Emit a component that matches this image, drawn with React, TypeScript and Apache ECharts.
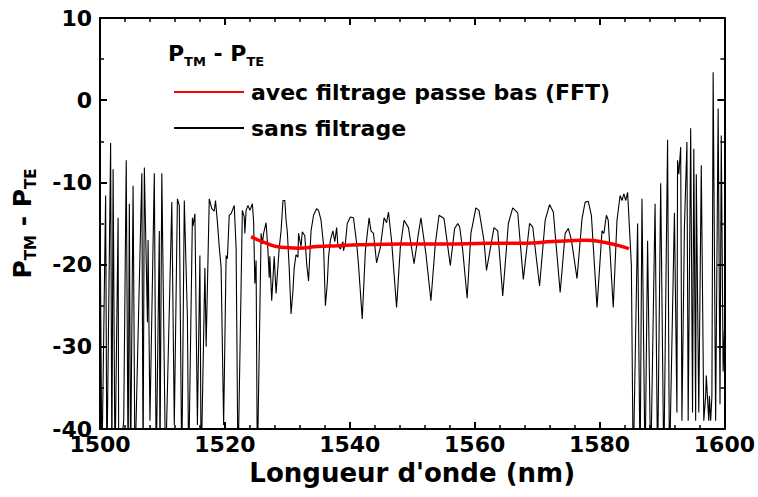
import React, { useEffect, useRef } from "react";
import * as echarts from "echarts";

const xTicks = [1500, 1520, 1540, 1560, 1580, 1600];
const yTicks = [-40, -30, -20, -10, 0, 10];
const seriesNames = ["avec filtrage passe bas (FFT)", "sans filtrage"];

const filteredWavelength = [1524.2, 1526.3, 1529.0, 1531.7, 1534.9, 1538.1, 1541.4, 1548.2, 1555.3, 1562.1, 1568.2, 1572.5, 1577.7, 1580.9, 1584.1, 1584.7];
const filteredDiff = [-16.6, -17.3, -17.9, -18.0, -17.8, -17.7, -17.6, -17.5, -17.5, -17.4, -17.4, -17.2, -17.05, -17.3, -17.9, -18.1];

const rawWavelength = [
  1500.0, 1500.3, 1500.9, 1501.1, 1501.7, 1501.9, 1502.1, 1502.4, 1502.9, 1503.0,
  1503.8, 1504.2, 1504.5, 1504.7, 1504.9, 1505.3, 1505.6, 1506.7, 1506.9, 1507.1,
  1507.6, 1507.7, 1508.0, 1508.7, 1509.0, 1509.5, 1509.6, 1509.9, 1510.5, 1511.5,
  1511.9, 1512.4, 1512.7, 1513.1, 1513.5, 1514.0, 1514.2, 1514.8, 1514.9, 1515.2,
  1515.6, 1516.0, 1516.2, 1516.8, 1517.0, 1517.5, 1517.9, 1518.3, 1518.5, 1518.8,
  1519.1, 1519.4, 1519.8, 1520.2, 1520.4, 1520.7, 1521.0, 1521.5, 1521.8, 1522.1,
  1522.8, 1523.1, 1523.2, 1523.4, 1523.7, 1524.0, 1524.4, 1524.6, 1524.8, 1525.0,
  1525.2, 1525.8, 1526.0, 1526.2, 1526.6, 1526.9, 1527.1, 1527.2, 1527.5, 1527.9,
  1528.2, 1528.7, 1529.0, 1529.3, 1529.6, 1529.8, 1530.0, 1530.3, 1530.6, 1530.9,
  1531.1, 1531.4, 1531.7, 1531.8, 1532.2, 1532.4, 1532.8, 1533.1, 1533.4, 1533.8,
  1534.2, 1534.7, 1535.0, 1535.4, 1535.8, 1536.1, 1536.4, 1536.6, 1536.9, 1537.3,
  1537.6, 1537.9, 1538.1, 1538.5, 1538.9, 1539.0, 1539.3, 1539.6, 1540.1, 1540.6,
  1541.1, 1541.4, 1542.0, 1542.5, 1543.1, 1543.4, 1543.8, 1544.3, 1544.9, 1545.5,
  1545.9, 1546.2, 1546.7, 1547.5, 1548.1, 1548.7, 1549.4, 1550.3, 1551.0, 1551.4,
  1552.2, 1553.0, 1553.7, 1554.3, 1555.1, 1556.1, 1556.8, 1557.3, 1557.6, 1558.1,
  1558.8, 1559.4, 1560.2, 1560.7, 1561.5, 1561.9, 1563.1, 1563.7, 1564.5, 1565.4,
  1566.1, 1566.9, 1567.8, 1568.8, 1569.3, 1570.4, 1571.3, 1572.0, 1572.6, 1573.7,
  1574.5, 1575.0, 1575.5, 1576.4, 1577.2, 1577.7, 1578.2, 1578.7, 1579.6, 1580.4,
  1580.7, 1581.1, 1581.4, 1582.2, 1582.8, 1583.3, 1583.6, 1583.9, 1584.2, 1584.5,
  1585.1, 1585.4, 1586.1, 1586.5, 1586.8, 1587.3, 1587.7, 1588.2, 1588.9, 1589.3,
  1589.8, 1590.3, 1590.9, 1591.2, 1592.0, 1592.4, 1592.5, 1592.7, 1593.0, 1593.2,
  1593.6, 1594.0, 1594.2, 1594.6, 1594.9, 1595.1, 1595.4, 1595.5, 1595.9, 1596.3,
  1596.7, 1597.0, 1597.1, 1597.5, 1597.6, 1597.8, 1598.0, 1598.2, 1598.6, 1599.0,
  1599.3, 1599.5, 1599.8, 1600.0
];
const rawDiff = [
  -12.2, -45, -11.6, -45, -5.2, -45, -8.4, -45, -14.3, -45,
  -39, -7.3, -45, -12.6, -45, -10.4, -45, -8.9, -45, -8.2,
  -27, -17, -39, -8.9, -45, -15.9, -45, -8.9, -45, -12.4,
  -39.5, -12, -12.8, -45, -12.2, -26.5, -45, -14.3, -15.3, -13.8,
  -39.5, -18.9, -45, -20.4, -30, -12, -13.2, -13.5, -12.2, -14.8,
  -17.9, -20.4, -39.5, -18.9, -19.3, -14, -13.8, -12.8, -18, -45,
  -13.4, -14.2, -16.2, -13.4, -12.8, -13.4, -12.6, -14.7, -22.3, -19.5,
  -45, -16.2, -17.5, -16.2, -14.9, -18.3, -21.6, -19, -24.4, -19,
  -23.5, -18, -15.9, -12.2, -12.2, -14.6, -16, -20.4, -26, -23.2,
  -20.4, -18.8, -19.1, -16.2, -17.8, -16, -16.5, -19.9, -22, -15.9,
  -14, -13.2, -13.4, -14.6, -17.6, -25, -22.3, -19.1, -17, -15.9,
  -17.2, -15.5, -17.7, -18.1, -17.2, -18.3, -17.4, -15, -14.2, -14.3,
  -17.4, -20, -26.6, -18.3, -14.3, -15.9, -16.2, -19.8, -17.9, -14.3,
  -14.9, -13.6, -17.1, -25.2, -17.9, -14.6, -15.5, -19.9, -16.2, -14.3,
  -18.7, -24.4, -17.5, -14, -14.4, -20.1, -15.6, -15, -15.4, -18.3,
  -24.1, -16.2, -13.1, -13.4, -17.1, -20.7, -15.5, -15.9, -23.8, -15,
  -13.1, -13.7, -21.8, -15, -15.4, -22.6, -14.6, -12.7, -13.6, -23.4,
  -16.2, -15.6, -17, -21.7, -14.4, -12.4, -12.3, -14, -25.2, -15.9,
  -16.2, -14, -14.6, -25.2, -14.6, -11.6, -12.2, -11.4, -12.2, -11.2,
  -20, -45, -15, -45, -12, -45, -17.1, -45, -12.6, -45,
  -10.1, -45, -4.8, -45, -13.7, -38, -7.3, -9, -5.7, -39,
  -15.5, -5.1, -39, -3.4, -38, -5.9, -39, -9, -38, -7.9,
  -39, -36, -33.5, -39, -36, -39, -36, 3.4, -39, -1,
  -37, -4.3, -33, -28
];

const FONT = "'DejaVu Sans', 'Liberation Sans', Arial, sans-serif";

export default function App() {
  const ref = useRef<HTMLDivElement>(null);
  useEffect(() => {
    if (!ref.current) return;
    const chart = echarts.init(ref.current, undefined, { renderer: "svg" });
    const rawData = rawWavelength.map((w, i) => [w, rawDiff[i]]);
    const filteredData = filteredWavelength.map((w, i) => [w, filteredDiff[i]]);

    const baseX = {
      type: "value" as const,
      min: xTicks[0],
      max: xTicks[xTicks.length - 1],
      interval: xTicks[1] - xTicks[0],
      splitLine: { show: false },
      axisLine: { show: true, onZero: false, lineStyle: { color: "#000", width: 2 } },
      axisTick: { show: true, inside: true, length: 7, lineStyle: { color: "#000", width: 2 } },
      minorTick: { show: true, splitNumber: 5, length: 4, lineStyle: { color: "#000", width: 1.5 } },
    };
    const baseY = {
      type: "value" as const,
      min: yTicks[0],
      max: yTicks[yTicks.length - 1],
      interval: yTicks[1] - yTicks[0],
      splitLine: { show: false },
      axisLine: { show: true, onZero: false, lineStyle: { color: "#000", width: 2 } },
      axisTick: { show: true, inside: true, length: 7, lineStyle: { color: "#000", width: 2 } },
      minorTick: { show: true, splitNumber: 2, length: 4, lineStyle: { color: "#000", width: 1.5 } },
    };
    const tickStyle = { fontSize: 22, fontWeight: "bold" as const, color: "#000", fontFamily: FONT };
    const legendStyle = { fontSize: 22, fontWeight: "bold" as const, color: "#000", fontFamily: FONT };

    chart.setOption({
      animation: false,
      backgroundColor: "#fff",
      textStyle: { fontFamily: FONT },
      grid: { left: 100, right: 30, top: 18, bottom: 68, containLabel: false },
      legend: {
        data: seriesNames,
        orient: "vertical",
        left: 168,
        top: 76,
        itemWidth: 70,
        itemHeight: 14,
        itemGap: 14,
        itemStyle: { opacity: 0, borderWidth: 0 },
        textStyle: { ...legendStyle, lineHeight: 22, padding: [0, 0, 0, 2] },
      },
      graphic: [
        {
          type: "text",
          left: 168,
          top: 42,
          style: {
            text: "{b|P}{s|TM}{b| - P}{s|TE}",
            rich: {
              b: { fontSize: 22, fontWeight: "bold", fontFamily: FONT, fill: "#000", lineHeight: 30, verticalAlign: "middle" },
              s: { fontSize: 13, fontWeight: "bold", fontFamily: FONT, fill: "#000", lineHeight: 30, verticalAlign: "bottom" },
            },
          },
        },
      ],
      xAxis: [
        {
          ...baseX,
          position: "bottom",
          axisLabel: { ...tickStyle, margin: 4, formatter: (v: number) => String(v) },
          name: "Longueur d'onde (nm)",
          nameLocation: "middle",
          nameGap: 29,
          nameTextStyle: { ...tickStyle, fontSize: 26 },
        },
        { ...baseX, position: "top", axisLabel: { show: false } },
      ],
      yAxis: [
        {
          ...baseY,
          position: "left",
          axisLabel: { ...tickStyle, margin: 8 },
          name: "{b|P}{s|TM}{b| - P}{s|TE}",
          nameLocation: "middle",
          nameGap: 62,
          nameRotate: 90,
          nameTextStyle: {
            rich: {
              b: { fontSize: 25, fontWeight: "bold", fontFamily: FONT, color: "#000", lineHeight: 32, verticalAlign: "middle" },
              s: { fontSize: 15, fontWeight: "bold", fontFamily: FONT, color: "#000", lineHeight: 32, verticalAlign: "bottom" },
            },
          },
        },
        { ...baseY, position: "right", axisLabel: { show: false } },
      ],
      series: [
        {
          name: seriesNames[1],
          type: "line",
          data: rawData,
          showSymbol: false,
          symbol: "none",
          clip: true,
          lineStyle: { color: "#000", width: 1.1 },
          itemStyle: { color: "#000" },
          z: 2,
        },
        {
          name: seriesNames[0],
          type: "line",
          data: filteredData,
          showSymbol: false,
          symbol: "none",
          smooth: true,
          clip: true,
          lineStyle: { color: "#ff0000", width: 3.5 },
          itemStyle: { color: "#ff0000" },
          z: 3,
        },
      ],
    });
    return () => chart.dispose();
  }, []);
  return <div ref={ref} style={{ position: "fixed", left: 0, top: 0, width: 758, height: 497 }} />;
}
